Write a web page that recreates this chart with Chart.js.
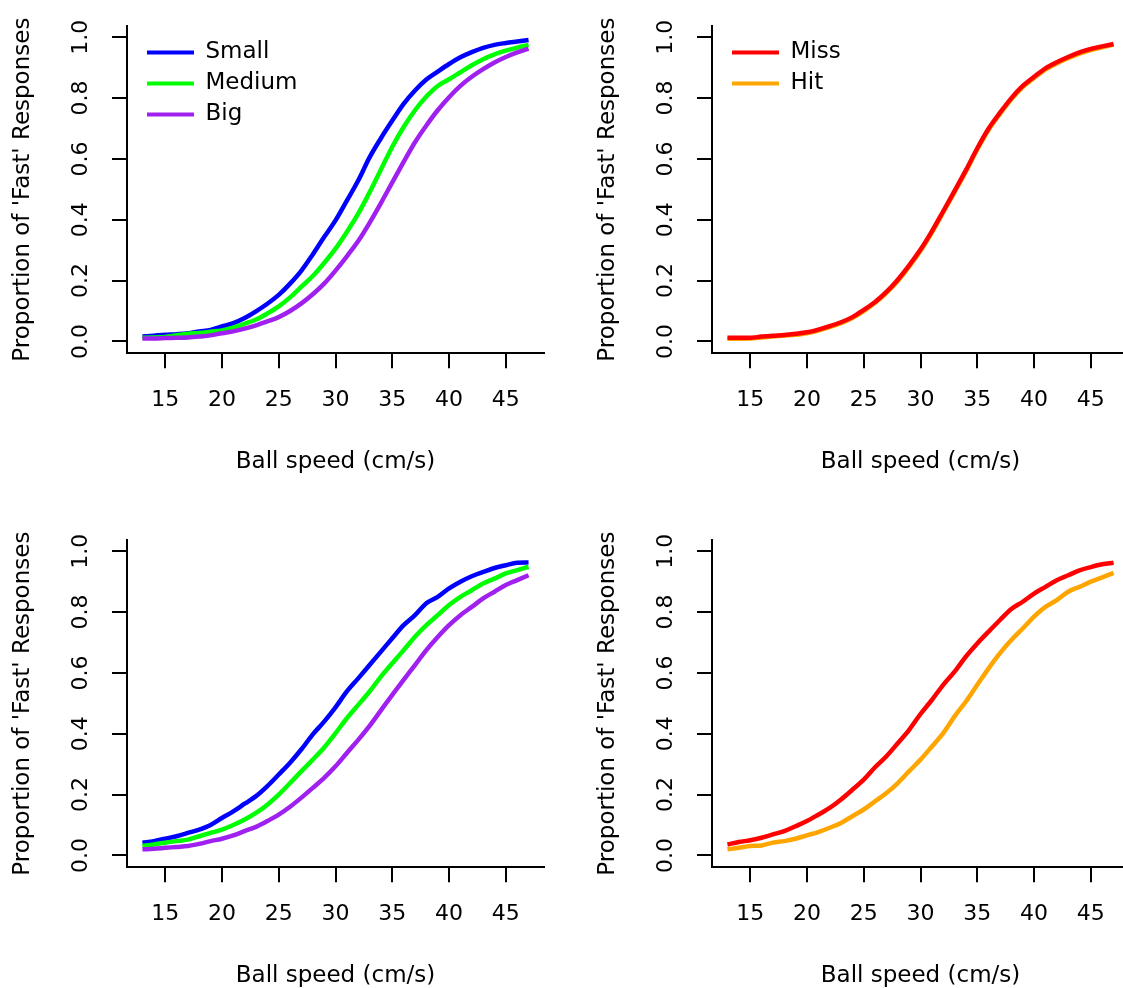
<!DOCTYPE html>
<html>
<head>
<meta charset="utf-8">
<title>Proportion of 'Fast' responses by ball speed</title>
<script src="https://cdn.jsdelivr.net/npm/chart.js@4.4.0/dist/chart.umd.min.js"></script>
<style>
  html, body { margin: 0; padding: 0; background: #fff; width: 1123px; height: 988px; overflow: hidden; }
  .panel { position: absolute; width: 561px; height: 514px; }
</style>
</head>
<body>
<div class="panel" style="left:0px;top:0px"><canvas id="sizeTop" width="561" height="514"></canvas></div>
<div class="panel" style="left:585px;top:0px"><canvas id="outcomeTop" width="561" height="514"></canvas></div>
<div class="panel" style="left:0px;top:514px"><canvas id="sizeBottom" width="561" height="514"></canvas></div>
<div class="panel" style="left:585px;top:514px"><canvas id="outcomeBottom" width="561" height="514"></canvas></div>

<script>
// ball speeds (cm/s) the curves are sampled at
const speeds = [13, 14, 15, 16, 17, 18, 19, 20, 21, 22, 23, 24, 25, 26, 27, 28, 29, 30,
                31, 32, 33, 34, 35, 36, 37, 38, 39, 40, 41, 42, 43, 44, 45, 46, 47];
const xTicks = [15, 20, 25, 30, 35, 40, 45];
const yTicks = [0, 0.2, 0.4, 0.6, 0.8, 1.0];

const sizeNames = ['Small', 'Medium', 'Big'];
const outcomeNames = ['Miss', 'Hit'];
const sizeColors = ['#0000ff', '#00ff00', '#a020f0'];
const outcomeColors = ['#ff0000', '#ffa500'];

const xTitle = 'Ball speed (cm/s)';
const yTitle = "Proportion of 'Fast' Responses";

// top left
const smallTop = [0.016, 0.019, 0.022, 0.024, 0.027, 0.033, 0.038, 0.049, 0.060, 0.077, 0.099, 0.124,
                  0.153, 0.190, 0.233, 0.286, 0.343, 0.398, 0.463, 0.529, 0.605, 0.668, 0.726, 0.781,
                  0.825, 0.861, 0.887, 0.912, 0.934, 0.951, 0.965, 0.975, 0.981, 0.986, 0.991];
const mediumTop = [0.012, 0.013, 0.015, 0.020, 0.025, 0.028, 0.032, 0.036, 0.045, 0.058, 0.072, 0.092,
                   0.115, 0.145, 0.180, 0.215, 0.258, 0.305, 0.360, 0.420, 0.490, 0.565, 0.640, 0.705,
                   0.760, 0.805, 0.840, 0.862, 0.885, 0.908, 0.928, 0.944, 0.956, 0.966, 0.975];
const bigTop = [0.010, 0.010, 0.011, 0.012, 0.013, 0.016, 0.020, 0.027, 0.033, 0.042, 0.053, 0.066,
                0.080, 0.100, 0.125, 0.155, 0.190, 0.233, 0.280, 0.330, 0.390, 0.455, 0.523, 0.590,
                0.655, 0.710, 0.760, 0.803, 0.840, 0.870, 0.895, 0.917, 0.935, 0.950, 0.963];

// top right
const missTop = [0.012, 0.012, 0.012, 0.016, 0.019, 0.021, 0.025, 0.030, 0.039, 0.050, 0.063, 0.080,
                 0.104, 0.130, 0.163, 0.203, 0.250, 0.302, 0.362, 0.428, 0.495, 0.563, 0.635, 0.700,
                 0.752, 0.800, 0.840, 0.870, 0.898, 0.918, 0.935, 0.950, 0.962, 0.970, 0.978];
const hitTop = [0.009, 0.009, 0.010, 0.013, 0.016, 0.019, 0.022, 0.027, 0.036, 0.047, 0.060, 0.077,
                0.100, 0.127, 0.160, 0.199, 0.246, 0.298, 0.358, 0.424, 0.491, 0.559, 0.631, 0.696,
                0.748, 0.796, 0.836, 0.866, 0.894, 0.914, 0.931, 0.946, 0.958, 0.967, 0.975];

// bottom left
const smallBottom = [0.042, 0.047, 0.055, 0.063, 0.074, 0.085, 0.100, 0.123, 0.145, 0.170, 0.195, 0.228,
                     0.266, 0.305, 0.349, 0.398, 0.440, 0.487, 0.539, 0.582, 0.626, 0.670, 0.714, 0.757,
                     0.790, 0.829, 0.850, 0.878, 0.900, 0.918, 0.932, 0.945, 0.954, 0.962, 0.963];
const mediumBottom = [0.031, 0.036, 0.042, 0.047, 0.052, 0.063, 0.074, 0.085, 0.100, 0.118, 0.140, 0.167,
                      0.200, 0.238, 0.277, 0.315, 0.355, 0.402, 0.451, 0.495, 0.539, 0.588, 0.632, 0.675,
                      0.719, 0.757, 0.790, 0.823, 0.850, 0.872, 0.894, 0.910, 0.927, 0.938, 0.949];
const bigBottom = [0.020, 0.022, 0.025, 0.028, 0.031, 0.038, 0.047, 0.055, 0.066, 0.080, 0.094, 0.113,
                   0.134, 0.160, 0.190, 0.222, 0.255, 0.293, 0.337, 0.380, 0.426, 0.477, 0.528, 0.577,
                   0.626, 0.675, 0.718, 0.757, 0.790, 0.817, 0.845, 0.867, 0.889, 0.905, 0.921];

// bottom right
const missBottom = [0.036, 0.044, 0.050, 0.058, 0.069, 0.080, 0.096, 0.113, 0.134, 0.156, 0.184, 0.216,
                    0.249, 0.290, 0.326, 0.369, 0.413, 0.465, 0.511, 0.561, 0.604, 0.654, 0.697, 0.736,
                    0.774, 0.810, 0.834, 0.861, 0.883, 0.905, 0.921, 0.937, 0.948, 0.957, 0.962];
const hitBottom = [0.020, 0.025, 0.031, 0.033, 0.042, 0.047, 0.055, 0.066, 0.077, 0.091, 0.107, 0.129,
                   0.151, 0.178, 0.205, 0.238, 0.277, 0.315, 0.358, 0.402, 0.457, 0.506, 0.561, 0.615,
                   0.665, 0.708, 0.746, 0.785, 0.817, 0.839, 0.867, 0.883, 0.900, 0.914, 0.929];

Chart.defaults.font.family = "'DejaVu Sans', sans-serif";
Chart.defaults.color = '#000';

const tickFont = { size: 22 };
const titleFont = { size: 23 };

// the legend sits inside the plot region, a little in from the corner
const legendNudge = {
  id: 'legendNudge',
  afterLayout(chart) {
    if (chart.options.plugins.legend.display) {
      chart.legend.left = chart.chartArea.left + 12;
      chart.legend.top = chart.chartArea.top + 7;
    }
  }
};

function makePanel(canvasId, names, series, colors, showLegend, firstOnTop) {
  const datasets = names.map((name, i) => ({
    label: name,
    data: speeds.map((s, j) => ({ x: s, y: series[i][j] })),
    borderColor: colors[i],
    backgroundColor: colors[i],
    borderWidth: 4.5,
    pointRadius: 0,
    cubicInterpolationMode: 'monotone',
    order: firstOnTop ? i : names.length - 1 - i
  }));

  return new Chart(document.getElementById(canvasId), {
    type: 'line',
    data: { datasets: datasets },
    plugins: [legendNudge],
    options: {
      responsive: false,
      animation: false,
      devicePixelRatio: 1,
      layout: { padding: { left: 0, top: 26, right: 17, bottom: 0 } },
      scales: {
        x: {
          type: 'linear',
          min: 11.64,
          max: 48.36,
          afterBuildTicks: axis => { axis.ticks = xTicks.map(v => ({ value: v })); },
          afterFit: axis => { axis.height = 160.7; },
          grid: { drawOnChartArea: false, drawTicks: true, tickLength: 15, color: '#000', lineWidth: 2 },
          border: { display: true, color: '#000', width: 2 },
          ticks: { color: '#000', font: tickFont, padding: 18.5, maxRotation: 0, autoSkip: false },
          title: { display: true, text: xTitle, color: '#000', font: titleFont, padding: { top: 0, bottom: 38.5 } }
        },
        y: {
          type: 'linear',
          min: -0.039,
          max: 1.037,
          afterBuildTicks: axis => { axis.ticks = yTicks.map(v => ({ value: v })); },
          afterFit: axis => { axis.width = 127; },
          grid: { drawOnChartArea: false, drawTicks: true, tickLength: 15, color: '#000', lineWidth: 2 },
          border: { display: true, color: '#000', width: 2 },
          ticks: {
            color: '#000', font: tickFont, padding: 12.8,
            minRotation: 90, maxRotation: 90, crossAlign: 'center', autoSkip: false,
            callback: v => v.toFixed(1)
          },
          title: { display: true, text: yTitle, color: '#000', font: titleFont, padding: { top: 9.2, bottom: 0 } }
        }
      },
      plugins: {
        tooltip: { enabled: false },
        legend: {
          display: showLegend,
          position: 'chartArea',
          align: 'start',
          labels: {
            color: '#000',
            font: { size: 23 },
            boxWidth: 47,
            boxHeight: 4,
            padding: 8,
            generateLabels: chart => chart.data.datasets.map((ds, i) => ({
              text: ds.label,
              fillStyle: ds.borderColor,
              strokeStyle: ds.borderColor,
              lineWidth: 0,
              hidden: false,
              datasetIndex: i
            }))
          }
        }
      }
    }
  });
}

makePanel('sizeTop', sizeNames, [smallTop, mediumTop, bigTop], sizeColors, true, false);
makePanel('outcomeTop', outcomeNames, [missTop, hitTop], outcomeColors, true, true);
makePanel('sizeBottom', sizeNames, [smallBottom, mediumBottom, bigBottom], sizeColors, false, false);
makePanel('outcomeBottom', outcomeNames, [missBottom, hitBottom], outcomeColors, false, true);
</script>
</body>
</html>
